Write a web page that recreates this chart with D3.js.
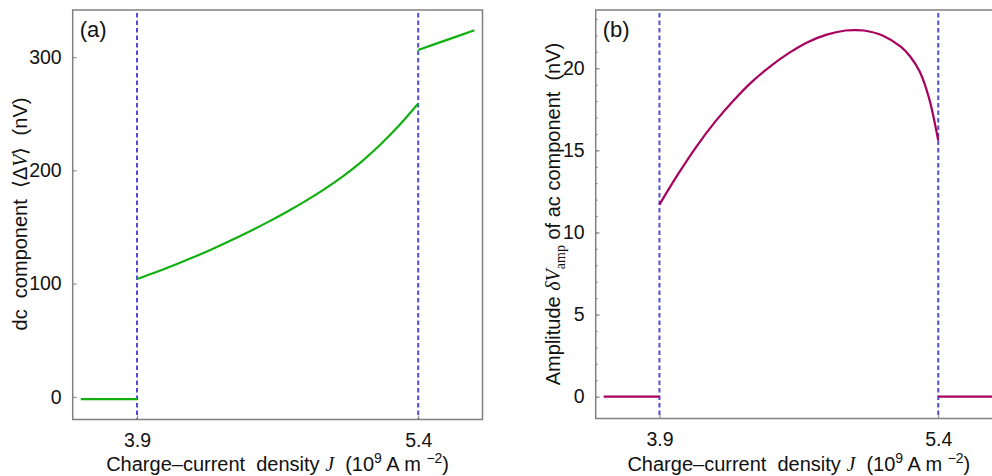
<!DOCTYPE html>
<html>
<head>
<meta charset="utf-8">
<script src="https://cdn.jsdelivr.net/npm/d3@7"></script>
<style>
  body { margin: 0; background: #fff; }
  svg { display: block; font-family: "Liberation Sans", Arial, sans-serif; }
  .math { font-family: "Liberation Serif", "DejaVu Serif", serif; font-style: italic; }
</style>
</head>
<body>
<div id="chart"></div>
<script>
// vertical marker positions (10^9 A m^-2)
var thresholds = [3.9, 5.4];
var xTicks = [3.9, 5.4];

// panel (a): dc component <dV> (nV)
var dcLow = [[3.6, -2], [3.9, -2]];
var dcMid = [[3.9, 104], [4.0, 110], [4.1, 116.4], [4.2, 123.2], [4.3, 130.4], [4.4, 138],
             [4.5, 146], [4.6, 154.5], [4.7, 163.5], [4.8, 173.1], [4.9, 183.5], [5.0, 195],
             [5.1, 208], [5.2, 223], [5.3, 240], [5.4, 259]];
var dcHigh = [[5.4, 306.3], [5.55, 315], [5.7, 323.7]];
var dcTicks = [0, 100, 200, 300];

// panel (b): amplitude of ac component (nV)
var acLow = [[3.6, 0], [3.9, 0]];
var acMid = [[3.9, 11.7], [4.0, 13.55], [4.1, 15.25], [4.2, 16.75], [4.3, 18.05], [4.4, 19.2],
             [4.5, 20.15], [4.6, 20.95], [4.7, 21.6], [4.8, 22.05], [4.9, 22.3], [4.95, 22.33],
             [5.0, 22.3], [5.1, 22.0], [5.2, 21.3], [5.25, 20.7], [5.3, 19.8], [5.35, 18.2],
             [5.4, 15.6]];
var acHigh = [[5.4, 0], [5.7, 0]];
var acTicks = [0, 5, 10, 15, 20];
var acMinor = d3.range(0, 24, 1);

var width = 992, height = 476;
var svg = d3.select('#chart').append('svg')
    .attr('width', width)
    .attr('height', height);

var frameColor = '#808080';
var dashColor = '#4f4fd4';

function panel(opt) {
    var x = d3.scaleLinear().domain([3.557, 5.743]).range([opt.left, opt.right]);
    var y = d3.scaleLinear().domain(opt.yDomain).range([opt.bottom, opt.top]);
    var g = svg.append('g');

    // dashed markers
    g.selectAll('line.marker')
        .data(thresholds)
        .enter()
        .append('line')
        .attr('class', 'marker')
        .attr('x1', function (d) { return x(d); })
        .attr('x2', function (d) { return x(d); })
        .attr('y1', opt.top + 3)
        .attr('y2', opt.bottom)
        .attr('stroke', dashColor)
        .attr('stroke-width', 2)
        .attr('stroke-dasharray', '4.5,3');

    var line = d3.line()
        .x(function (d) { return x(d[0]); })
        .y(function (d) { return y(d[1]); })
        .curve(d3.curveCatmullRom.alpha(0.5));

    g.selectAll('path.series')
        .data(opt.series)
        .enter()
        .append('path')
        .attr('class', 'series')
        .attr('d', line)
        .attr('fill', 'none')
        .attr('stroke', opt.color)
        .attr('stroke-width', 2.2);

    // axes with inside ticks
    var yAxis = g.append('g')
        .attr('transform', 'translate(' + opt.left + ',0)')
        .call(d3.axisLeft(y).tickValues(opt.yTicks).tickSize(-4).tickPadding(11)
            .tickFormat(d3.format('d')));
    if (opt.yMinor) {
        g.append('g')
            .attr('transform', 'translate(' + opt.left + ',0)')
            .call(d3.axisLeft(y).tickValues(opt.yMinor).tickSize(-2).tickFormat(''))
            .call(function (s) { s.select('.domain').remove(); })
            .selectAll('line').attr('stroke', frameColor);
    }
    var xAxis = g.append('g')
        .attr('transform', 'translate(0,' + opt.bottom + ')')
        .call(d3.axisBottom(x).tickValues(xTicks).tickSize(-4).tickPadding(14)
            .tickFormat(d3.format('.1f')));

    [yAxis, xAxis].forEach(function (a) {
        a.select('.domain').remove();
        a.selectAll('line').attr('stroke', frameColor);
        a.selectAll('text')
            .attr('fill', '#111')
            .style('font-size', '19.5px')
            .style('font-family', '"Liberation Sans", Arial, sans-serif');
    });

    // frame
    g.append('rect')
        .attr('x', opt.left)
        .attr('y', opt.top)
        .attr('width', opt.right - opt.left)
        .attr('height', opt.bottom - opt.top)
        .attr('fill', 'none')
        .attr('stroke', frameColor)
        .attr('stroke-width', 1.5);

    g.append('text')
        .attr('x', opt.left + 7)
        .attr('y', opt.top + 27)
        .style('font-size', '22px')
        .attr('fill', '#111')
        .text(opt.tag);

    // x label
    var xl = g.append('text')
        .attr('x', (opt.left + opt.right) / 2)
        .attr('y', 471)
        .attr('text-anchor', 'middle')
        .style('font-size', '20px')
        .attr('fill', '#111');
    xl.append('tspan').text('Charge\u2013current\u00a0 density ');
    xl.append('tspan').attr('class', 'math').text('J');
    xl.append('tspan').text('\u00a0 (10');
    xl.append('tspan').attr('dy', -8).style('font-size', '14px').text('9');
    xl.append('tspan').attr('dy', 8).text(' A m ');
    xl.append('tspan').attr('dy', -8).style('font-size', '14px').text('\u22122');
    xl.append('tspan').attr('dy', 8).text(')');

    // y label
    var yl = g.append('text')
        .attr('transform', 'translate(' + opt.yLabelX + ',' + opt.yLabelY + ') rotate(-90)')
        .attr('text-anchor', 'middle')
        .style('font-size', '20px')
        .attr('fill', '#111');
    opt.yLabel(yl);
}

panel({
    left: 72.7, right: 482.5, top: 10, bottom: 419.5,
    yDomain: [-20, 341.6],
    yTicks: dcTicks,
    series: [dcLow, dcMid, dcHigh],
    color: '#11b011',
    tag: '(a)',
    yLabelX: 27, yLabelY: 214,
    yLabel: function (t) {
        t.append('tspan').text('dc\u00a0 component\u00a0 \u27e8\u0394');
        t.append('tspan').attr('class', 'math').text('V');
        t.append('tspan').text('\u27e9\u00a0 (nV)');
    }
});

panel({
    left: 595.7, right: 1002, top: 10, bottom: 418.5,
    yDomain: [-1.33, 23.55],
    yTicks: acTicks,
    yMinor: acMinor,
    series: [acLow, acMid, acHigh],
    color: '#a8005e',
    tag: '(b)',
    yLabelX: 560, yLabelY: 214,
    yLabel: function (t) {
        t.append('tspan').text('Amplitude ');
        t.append('tspan').attr('class', 'math').text('\u03b4V');
        t.append('tspan').attr('dy', 5).style('font-size', '14px')
            .style('font-family', '"Liberation Serif", serif').text('amp');
        t.append('tspan').attr('dy', -5).text(' of ac component\u00a0 (nV)');
    }
});
</script>
</body>
</html>
